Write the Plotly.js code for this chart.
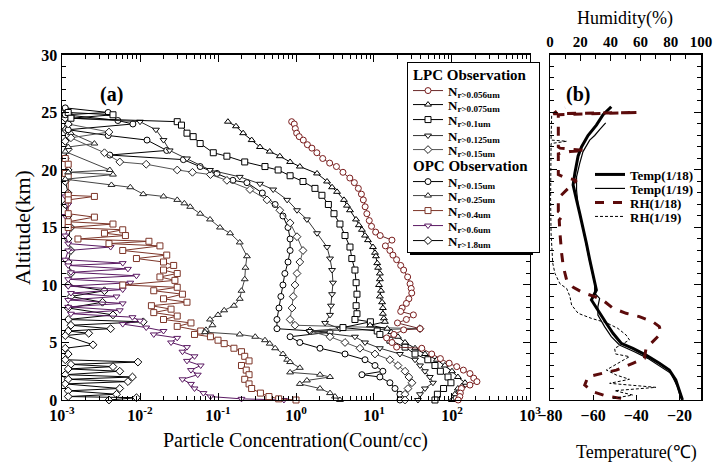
<!DOCTYPE html>
<html><head><meta charset="utf-8">
<script src="https://cdn.plot.ly/plotly-3.0.1.min.js"></script>
<style>html,body{margin:0;padding:0;background:#fff}#plot{width:713px;height:462px}</style>
</head><body><div id="plot"></div>
<script>
// ---------- Panel (a): particle concentration profiles (Count/cc) vs altitude (km) ----------
const lpc056Alt = [24.2,24.0,23.6,23.2,22.9,22.6,22.2,21.9,21.5,21.0,20.6,20.3,19.8,19.3,18.9,18.4,17.9,17.4,16.8,16.2,15.6,15.1,14.6,14.3,13.9,13.4,13.0,12.6,12.2,11.7,11.3,10.7,10.1,9.7,9.3,8.8,8.4,8.0,7.7,7.4,7.0,6.7,6.2,6.1,5.7,5.4,5.0,4.6,4.5,4.0,3.6,3.2,2.9,2.6,2.3,1.9,1.6,1.3,1.0,0.6,0.3,0.0];
const lpc056 = [0.88,0.95,0.98,1.02,1.1,1.24,1.4,1.6,1.85,2.2,2.7,3.3,4.0,4.9,5.6,6.3,6.9,7.3,7.7,8.1,8.7,9.3,10.5,12,17,14,16,17.5,19.5,22,24,27,29,30,30.5,28,26,23,22,32,26,20,39,24,18,14.5,17,19.5,41,55,71,92,115,140,170,190,209,170,132,128,126,120];

const lpc075Alt = [24.2,23.8,23.2,22.6,22.0,21.6,21.2,20.7,20.3,19.7,19.0,18.5,18.1,17.4,16.9,16.5,15.7,15.2,14.8,14.3,13.9,13.3,12.8,12.5,11.9,11.5,11.0,10.5,10.0,9.5,9.0,8.5,8.0,7.5,7.1,6.8,6.5,6.2,5.9,5.5,5.0,4.5,4.0,3.5,3.0,2.5,2.0,1.5,1.2,1.0,0.5,0.0];
const lpc075 = [0.134,0.17,0.21,0.27,0.345,0.46,0.62,0.84,1.12,1.86,2.5,2.9,3.36,4.12,4.5,4.92,5.88,6.4,7.0,7.67,8.37,9.7,10.3,10.6,11.0,11.3,11.9,11.9,11.6,12.3,11.9,12.7,13.0,13.0,13.4,13.8,8.9,14.8,16.6,20.3,25,33.6,45,64,81,100,119,147,134,119,109,100];

const lpc10Alt = [25.0,24.8,24.5,24.2,23.9,23.2,22.9,22.3,21.5,21.2,20.7,20.3,20.0,19.5,19.0,18.4,17.8,17.0,16.2,15.3,14.3,13.3,12.3,11.3,10.2,9.2,8.2,7.5,7.0,6.8,6.3,6.0,5.7,5.2,4.6,4.0,3.5,3.0,2.5,2.0,1.5,1.0,0.5,0.0];
const lpc10 = [0.0012,0.0045,0.0013,0.03,0.034,0.04,0.048,0.059,0.087,0.13,0.22,0.40,0.59,0.84,1.23,1.75,2.15,2.6,3.07,3.66,4.25,4.92,5.2,5.7,5.9,6.05,5.9,6.05,5.7,9.0,4.0,11,11.9,16,25,33.6,49,60.5,71,89,97,78,65,60.5];

const lpc125Alt = [24.5,24.2,23.5,22.6,21.7,21.0,20.0,19.4,18.8,18.3,17.4,16.5,15.7,14.5,13.3,12.3,11.3,10.2,9.2,8.2,7.4,6.7,6.2,6.0,5.5,5.0,4.5,4.0,3.5,3.0,2.5,2.0,1.5,1.0,0.5,0.0];
const lpc125 = [0.0013,0.01,0.016,0.02,0.024,0.04,0.079,0.19,0.345,0.51,0.77,1.03,1.38,1.86,2.5,2.73,2.9,2.98,2.9,2.81,2.73,2.36,3.66,1.5,5.7,7.67,11.9,21.5,33.6,38.9,45,52,57,45,38.9,36.6];

const lpc15Alt = [24.0,23.3,22.8,21.5,20.7,20.5,20.0,19.8,19.6,19.1,18.3,17.4,16.5,15.4,14.2,13.0,12.0,11.0,10.0,9.0,8.0,7.0,6.5,6.2,6.0,5.5,5.0,4.5,4.0,3.5,3.0,2.5,2.0,1.5,1.0,0.5,0.0];
const lpc15 = [0.0012,0.004,0.0013,0.0035,0.0055,0.012,0.03,0.047,0.08,0.13,0.257,0.425,0.62,0.84,1.03,1.23,1.12,1.03,0.97,0.92,0.89,0.84,0.97,38.9,1.51,2.73,4.25,6.6,10.3,16,20.3,25,28,30.7,27.3,25,25];

const opc15Alt = [25.4,25.0,24.8,24.3,24.0,23.5,23.0,22.6,21.7,21.3,20.9,20.3,19.7,19.1,18.9,18.0,17.0,16.0,15.0,14.0,13.0,12.0,11.0,10.0,9.0,8.0,7.0,6.2,5.9,5.5,5.0,4.5,4.0,3.5,3.0,2.5,2.2,2.0,1.5,1.0,0.5,0.0];
const opc15 = [0.0011,0.0039,0.0011,0.0052,0.0081,0.0012,0.0039,0.0123,0.022,0.0041,0.036,0.059,0.097,0.155,0.235,0.37,0.54,0.68,0.79,0.84,0.84,0.79,0.72,0.68,0.64,0.605,0.57,0.57,2.73,0.84,1.12,2.03,4.25,7.67,10.3,13,7.0,11.9,16,18.6,21.5,21.5];

const opc25Alt = [24.0,23.6,23.2,22.3,22.0,21.6,20.0,19.8,19.6,19.2,18.7,18.5,17.9,17.7,17.4,17.1,16.8,16.2,15.7,15.0,14.5,13.7,12.5,11.5,10.5,9.5,8.8,8.2,7.8,7.4,7.0,6.5,6.1,5.9,5.7,5.5,5.2,4.9,4.5,4.0,3.5,3.3,2.8,2.4,2.2,2.0,1.7,1.4,1.0,0.6,0.3,0.0];
const opc25 = [0.0012,0.0011,0.0013,0.0026,0.0012,0.0011,0.0041,0.0012,0.0045,0.0011,0.0043,0.0075,0.011,0.02,0.03,0.037,0.044,0.059,0.079,0.106,0.143,0.19,0.235,0.225,0.22,0.2,0.19,0.16,0.12,0.1,0.079,0.085,0.07,0.068,0.19,0.3,0.4,0.46,0.54,0.68,0.77,0.84,1.12,0.84,2.03,2.73,1.38,1.12,2.03,2.73,3.16,3.66];

const opc4Alt = [21.0,20.5,19.7,19.4,17.8,17.7,17.4,16.2,15.9,15.5,15.3,15.0,14.8,14.5,14.3,14.0,13.8,13.6,13.4,13.0,12.6,12.3,12.0,11.7,11.3,11.0,10.7,10.4,10.0,9.8,9.5,9.2,8.8,8.5,8.2,7.9,7.6,7.3,7.0,6.7,6.4,6.0,5.7,5.5,5.2,4.9,4.5,4.2,3.8,3.4,3.0,2.6,2.2,1.8,1.4,1.0,0.6,0.3,0.1,0.0];
const opc4 = [0.0011,0.0012,0.0011,0.0012,0.0012,0.0026,0.0012,0.0012,0.0026,0.0012,0.0045,0.0012,0.006,0.0035,0.0065,0.0016,0.013,0.004,0.018,0.006,0.022,0.009,0.02,0.027,0.02,0.03,0.018,0.028,0.006,0.03,0.015,0.035,0.02,0.04,0.014,0.025,0.015,0.03,0.02,0.045,0.03,0.06,0.05,0.08,0.1,0.12,0.16,0.2,0.22,0.25,0.2,0.23,0.25,0.22,0.25,0.27,0.35,0.45,0.6,1.0];

const opc6Alt = [17.7,17.0,16.0,15.0,14.3,13.6,13.3,13.0,12.2,11.9,11.7,11.4,11.1,10.8,10.5,10.2,9.9,9.6,9.3,9.0,8.7,8.4,8.1,7.8,7.5,7.2,6.9,6.6,6.3,6.0,5.7,5.4,5.0,4.6,4.2,3.8,3.4,3.0,2.6,2.2,1.8,1.4,1.0,0.6,0.3,0.1,0.0];
const opc6 = [0.0011,0.0012,0.0011,0.0012,0.0011,0.0012,0.0042,0.0012,0.0011,0.006,0.0012,0.007,0.0013,0.009,0.0012,0.0075,0.0012,0.006,0.0013,0.005,0.0012,0.006,0.0012,0.0055,0.0013,0.008,0.01,0.006,0.012,0.02,0.015,0.03,0.025,0.04,0.035,0.05,0.04,0.06,0.045,0.055,0.035,0.045,0.05,0.065,0.08,0.2,0.7];

const opc18Alt = [25.3,24.9,24.5,24.0,23.5,23.0,22.5,21.8,21.0,20.0,19.0,18.0,17.0,16.0,15.0,14.0,13.0,12.0,11.0,10.0,9.5,9.0,8.5,8.0,7.4,7.0,6.8,6.5,6.2,6.0,5.8,5.6,4.8,4.5,4.0,3.5,3.3,3.1,2.9,2.7,2.5,2.2,2.0,1.8,1.6,1.4,1.0,0.8,0.5,0.3,0.2,0.0];
const opc18 = [0.0011,0.0012,0.0011,0.0012,0.0011,0.0012,0.0011,0.0012,0.0011,0.0012,0.0011,0.0012,0.0011,0.0012,0.0013,0.0012,0.0013,0.0012,0.0013,0.0012,0.0035,0.0013,0.0033,0.0012,0.0045,0.0012,0.011,0.0013,0.0042,0.0012,0.0022,0.0011,0.0025,0.0011,0.0012,0.0011,0.0094,0.0013,0.0045,0.0012,0.0055,0.0011,0.008,0.0012,0.007,0.0011,0.0055,0.0012,0.005,0.0012,0.009,0.004];

const concTickVals = [0.001,0.01,0.1,1,10,100,1000];
const concTickText = ['10<sup>-3</sup>','10<sup>-2</sup>','10<sup>-1</sup>','10<sup>0</sup>','10<sup>1</sup>','10<sup>2</sup>','10<sup>3</sup>'];

// ---------- Panel (b): temperature (°C) and humidity (%) profiles ----------
const temp18Alt = [0,0.87,1.74,2.6,3.19,3.9,4.49,4.93,5.8,6.67,7.54,8.7,9.57,11.0,12.2,13.6,15.1,16.2,17.4,18.7,19.7,21.2,22.0,23.0,23.9,24.8,25.5];
const temp18 = [-18.6,-20.1,-21.7,-24.7,-29.3,-35.5,-41.6,-47.0,-50.8,-53.9,-57.0,-60.8,-58.5,-60.0,-61.6,-63.1,-64.7,-66.2,-67.7,-69.3,-68.5,-67.0,-65.4,-62.4,-58.5,-55.4,-51.6];
const temp19Alt = [0.14,1.16,2.32,2.9,3.62,4.2,4.78,5.51,6.38,7.39,8.12,8.84,9.28,10.14,11.3,12.75,14.2,15.65,16.96,18.26,19.4,20.6,21.6,22.6,23.0,23.5,24.1];
const temp19 = [-19.4,-20.9,-24.0,-28.6,-34.7,-40.9,-47.8,-51.6,-54.7,-57.8,-57.8,-57.0,-59.3,-59.3,-60.8,-62.4,-63.9,-65.4,-67.0,-67.7,-67.7,-66.2,-64.7,-61.6,-59.3,-57.0,-54.2];
const rh18Alt = [0.14,0.35,0.72,1.3,2.03,2.26,2.6,3.19,3.62,4.49,5.07,5.8,6.38,6.81,7.25,7.54,7.97,8.55,8.99,9.33,9.8,10.43,11.6,12.75,14.5,15.65,16.1,16.4,17.4,17.7,19.1,19.4,19.6,21.4,21.6,21.7,21.9,22.0,24.8,25.0,24.9,25.3,25.4];
const rh18 = [47.1,37.3,28.5,23.0,25.2,32.9,43.9,54.8,62.5,63.6,68.0,73.5,72.4,68.0,59.2,50.4,41.7,36.2,29.6,21.9,15.4,11.0,8.8,7.7,6.6,6.1,8.8,5.5,5.5,6.6,17.5,8.8,5.5,5.5,13.2,23.0,6.6,5.5,5.5,58.1,2.2,6.6,10.0];
const rh19Alt = [0.14,0.43,0.81,1.1,1.45,1.8,2.17,2.61,3.77,4.0,4.49,5.22,5.65,6.23,6.72,7.1,7.54,8.26,9.0,9.7,10.1,11.0,11.9,14.5,17.4,22.3,22.5,22.6,24.8];
const rh19 = [41.7,54.8,42.8,70.2,39.5,52.6,43.9,37.3,52.6,43.4,42.8,52.6,50.4,44.9,37.3,27.4,18.6,14.3,13.2,11.0,6.6,3.3,1.8,0.7,0.4,0.7,11.0,0.7,1.1];

const SERIF = 'Liberation Serif, Times New Roman, serif';

function prof(name, alt, conc, symbol, mcol, lcol, group, rank) {
  return {
    type: 'scatter', mode: 'lines+markers', x: conc, y: alt, name: name,
    xaxis: 'x', yaxis: 'y', cliponaxis: false,
    line: {color: lcol, width: 1},
    marker: {symbol: symbol, size: 6, color: '#ffffff', line: {color: mcol, width: 1}},
    legendgroup: group, legendgrouptitle: {text: group}, legendrank: rank, legend: 'legend'
  };
}
const L = 'LPC Observation', O = 'OPC Observation';
const traces = [
  prof('N<sub>r&gt;1.8um</sub>', opc18Alt, opc18, 'diamond', '#000', '#000', O, 10),
  prof('N<sub>r&gt;0.6um</sub>', opc6Alt, opc6, 'triangle-down', '#5b1a63', '#5b1a63', O, 9),
  prof('N<sub>r&gt;0.4um</sub>', opc4Alt, opc4, 'square', '#7d3528', '#7d3528', O, 8),
  prof('N<sub>r&gt;0.25um</sub>', opc25Alt, opc25, 'triangle-up', '#222', '#444', O, 7),
  prof('N<sub>r&gt;0.15um</sub>', opc15Alt, opc15, 'circle', '#000', '#000', O, 6),
  prof('N<sub>r&gt;0.15um</sub>', lpc15Alt, lpc15, 'diamond', '#222', '#555', L, 5),
  prof('N<sub>r&gt;0.125um</sub>', lpc125Alt, lpc125, 'triangle-down', '#111', '#333', L, 4),
  prof('N<sub>r&gt;0.1um</sub>', lpc10Alt, lpc10, 'square', '#000', '#000', L, 3),
  prof('N<sub>r&gt;0.075um</sub>', lpc075Alt, lpc075, 'triangle-up', '#000', '#000', L, 2),
  prof('N<sub>r&gt;0.056um</sub>', lpc056Alt, lpc056, 'circle', '#7a1c1c', '#6a2a2a', L, 1),
  {type:'scatter', mode:'lines', x: temp18, y: temp18Alt, name:'Temp(1/18)', xaxis:'x2', yaxis:'y2',
   line:{color:'#000', width:3}, legend:'legend2'},
  {type:'scatter', mode:'lines', x: temp19, y: temp19Alt, name:'Temp(1/19)', xaxis:'x2', yaxis:'y2',
   line:{color:'#000', width:1.2}, legend:'legend2'},
  {type:'scatter', mode:'lines', x: rh18, y: rh18Alt, name:'RH(1/18)', xaxis:'x3', yaxis:'y2',
   line:{color:'#5c0b0b', width:3, dash:'dash'}, legend:'legend2'},
  {type:'scatter', mode:'lines', x: rh19, y: rh19Alt, name:'RH(1/19)', xaxis:'x3', yaxis:'y2',
   line:{color:'#000', width:1, dash:'3px,2px'}, legend:'legend2'}
];

const minorLog = [];
for (let e = -3; e < 3; e++) for (let m = 2; m <= 9; m++) minorLog.push(m * Math.pow(10, e));

const yDom = [0.1342, 0.881];
const tickFont = {family: SERIF, size: 16, color: '#000', weight: 'bold'};
function ann(text, px, py, size, bold, angle) {
  return {text: text, xref:'paper', yref:'paper', x: px/713, y: (462-py)/462, xanchor:'center', yanchor:'middle',
    showarrow:false, textangle: angle || 0, font:{family: SERIF, size: size, color:'#000', weight: bold ? 'bold' : 'normal'}};
}
const layout = {
  width: 713, height: 462, margin: {l:0, r:0, t:0, b:0, autoexpand:false},
  paper_bgcolor: '#fff', plot_bgcolor: '#fff', showlegend: true,
  font: {family: SERIF, color: '#000'},
  xaxis: {domain:[0.0870, 0.7433], anchor:'y', type:'log', range:[-3,3], automargin:false,
    tickmode:'array', tickvals: concTickVals, ticktext: concTickText,
    ticks:'inside', ticklen:7, tickwidth:1, tickcolor:'#000', showline:true, linecolor:'#000', linewidth:1.5,
    mirror:'ticks', showgrid:false, zeroline:false, tickfont: tickFont,
    minor:{tickmode:'array', tickvals: minorLog, ticks:'inside', ticklen:4, tickcolor:'#000', showgrid:false}},
  yaxis: {domain: yDom, anchor:'x', range:[0,30], dtick:5, ticks:'inside', ticklen:7, tickcolor:'#000',
    showline:true, linecolor:'#000', linewidth:1.5, mirror:'ticks', showgrid:false, zeroline:false, automargin:false,
    tickfont: tickFont, minor:{dtick:1, ticks:'inside', ticklen:4, tickcolor:'#000', showgrid:false}},
  xaxis2: {domain:[0.7714, 0.9832], anchor:'y2', range:[-80,-10], tickvals:[-80,-60,-40,-20], automargin:false,
    ticks:'inside', ticklen:5, tickcolor:'#000', showline:true, linecolor:'#000', linewidth:1.5,
    showgrid:false, zeroline:false, tickfont: tickFont},
  xaxis3: {overlaying:'x2', anchor:'y2', side:'top', range:[0,100], dtick:20, ticks:'inside', ticklen:6, automargin:false,
    tickcolor:'#000', showline:true, linecolor:'#000', linewidth:1.5, showgrid:false, zeroline:false,
    tickfont: {family: SERIF, size: 15, color:'#000', weight:'bold'},
    minor:{dtick:10, ticks:'inside', ticklen:4, tickcolor:'#000', showgrid:false}},
  yaxis2: {domain: yDom, anchor:'x2', range:[0,30], dtick:5, showticklabels:false, ticks:'inside', ticklen:7,
    tickcolor:'#000', showline:true, linecolor:'#000', linewidth:1.5, mirror:'ticks', showgrid:false, automargin:false,
    zeroline:false, minor:{dtick:1, ticks:'inside', ticklen:4, tickcolor:'#000', showgrid:false}},
  legend: {x: 407/713, y: (462-62)/462, xanchor:'left', yanchor:'top', bgcolor:'#fff', bordercolor:'#000', borderwidth:1,
    font:{family: SERIF, size: 13, color:'#000', weight:'bold'}, traceorder:'grouped', tracegroupgap: 0,
    itemwidth: 30, grouptitlefont:{family: SERIF, size: 15, color:'#000', weight:'bold'}},
  legend2: {x: 590/713, y: (462-166)/462, xanchor:'left', yanchor:'top', bgcolor:'rgba(0,0,0,0)', borderwidth:0,
    font:{family: SERIF, size: 13, color:'#000', weight:'bold'}, itemwidth: 30, tracegroupgap: 0},
  shapes: [
    {type:'rect', xref:'paper', yref:'paper', x0: 410/713, x1: 533/713, y0: (462-255)/462, y1: (462-66)/462,
     fillcolor:'#000', line:{width:0}, layer:'above'}
  ],
  annotations: [
    ann('(a)', 111, 95, 20, true),
    ann('(b)', 578, 95, 20, true),
    ann('Altitude(km)', 22, 228, 22, false, -90),
    ann('Particle Concentration(Count/cc)', 295, 440, 20, false),
    ann('Temperature(℃)', 636, 452, 18, false),
    ann('Humidity(%)', 625, 18, 18, false)
  ]
};

// Compact the legend rows to the spacing of the reference (Plotly's minimum row height is larger).
function compactLegend(gd, sel, targets, top, bottom) {
  const leg = gd.querySelector(sel);
  if (!leg) return;
  const base = gd.getBoundingClientRect();
  const items = leg.querySelectorAll('g.traces');
  items.forEach(function(it, i) {
    if (i >= targets.length) return;
    const t = it.querySelector('text');
    if (!t) return;
    const r = t.getBoundingClientRect();
    const cy = r.top + r.height / 2 - base.top;
    const m = /translate\(\s*([-\d.e]+)[ ,]+([-\d.e]+)\s*\)/.exec(it.getAttribute('transform') || '');
    const tx = m ? parseFloat(m[1]) : 0, ty = m ? parseFloat(m[2]) : 0;
    it.setAttribute('transform', 'translate(' + tx + ',' + (ty + targets[i] - cy) + ')');
  });
  if (top !== null) {
    const bg = leg.querySelector('rect.bg');
    if (bg) {
      const rb = bg.getBoundingClientRect();
      const y = parseFloat(bg.getAttribute('y') || 0);
      bg.setAttribute('y', y + (top - (rb.top - base.top)));
      bg.setAttribute('height', bottom - top);
    }
  }
}

Plotly.newPlot('plot', traces, layout, {displayModeBar:false, staticPlot:true}).then(function(gd) {
  compactLegend(gd, 'g.legend', [75,92,106,121,137,151,166,183,197,212,227,242], 62, 252);
  compactLegend(gd, 'g.legend2', [175,189,203,217], null, null);
});
</script></body></html>
